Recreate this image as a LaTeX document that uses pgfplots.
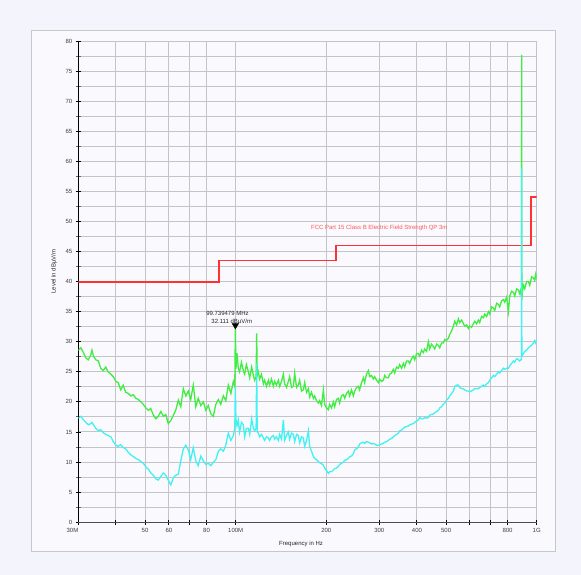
\documentclass[border=0pt]{standalone}
\usepackage{pgfplots}
\pgfplotsset{compat=1.18}
\usepackage{fontspec}
\setmainfont{Liberation Sans}
\definecolor{outerbg}{RGB}{243,244,252}
\definecolor{panelbg}{RGB}{249,249,254}
\definecolor{gridc}{RGB}{196,196,200}
\definecolor{trgreen}{RGB}{64,238,64}
\definecolor{trcyan}{RGB}{64,242,242}
\definecolor{limred}{RGB}{255,50,50}
\definecolor{limtext}{RGB}{255,90,90}
\begin{document}
\begin{tikzpicture}
\fill[outerbg] (0pt,0pt) rectangle (581pt,-575pt);
\filldraw[fill=panelbg, draw=black!22, line width=0.8pt] (31.5pt,-30.5pt) rectangle (555pt,-551pt);
\begin{axis}[
  at={(78.3pt,-522.2pt)}, anchor=south west,
  scale only axis, width=458.4pt, height=481.2pt,
  xmode=log, xmin=30, xmax=1000, ymin=0, ymax=80,
  axis x line*=bottom, axis y line*=left,
  x axis line style={-, draw=black!70, line width=1.4pt},
  y axis line style={-, draw=black, line width=1.4pt},
  xtick={30,40,50,60,70,80,100,200,300,400,500,600,700,800,1000},
  xticklabels={\llap{30M},,50,60,,80,100M,200,300,400,500,,,800,1G},
  minor x tick num=0,
  ytick={0,5,...,80},
  minor ytick={2.5,7.5,...,77.5},
  tick align=center,
  major tick length=5pt, minor tick length=5pt,
  every tick/.style={black, line width=0.9pt},
  minor tick style={black!60, line width=0.9pt},
  grid=both,
  major grid style={gridc, line width=1pt},
  minor grid style={gridc, line width=1pt},
  /pgf/number format/assume math mode=true,
  ticklabel style={font=\fontsize{6}{7}\selectfont, text=black!75},
  xlabel={Frequency in Hz},
  ylabel={Level in dBµV/m},
  label style={font=\fontsize{6}{7}\selectfont, text=black!85},
  xlabel style={at={(axis description cs:0.486,-0.0453)}, anchor=center},
  ylabel style={at={(axis description cs:-0.053,0.521)}, anchor=center, rotate=0},
  clip=true,
]
\addplot[draw=limred, line width=1.8pt, line join=miter] coordinates {(30,40) (88,40) (88,43.5) (216,43.5) (216,46) (960,46) (960,54) (1000,54)};
\addplot[trgreen, line width=1.3pt] coordinates {
(30,28.6)(30.6,29.0)(31.2,28.2)(31.8,27.3)(32.4,27.0)(33.0,27.8)(33.3,28.6)(33.7,27.6)(34.3,27.0)(35.0,26.8)(35.6,25.6)(36.3,25.2)(37.0,25.8)(37.7,25.0)(38.5,24.6)(39.2,24.2)(40.0,23.4)(40.7,23.2)(41.5,22.0)(42.3,22.8)(43.1,21.6)(44.0,21.4)(44.8,21.0)(45.7,21.2)(46.6,20.6)(47.5,20.4)(48.4,20.0)(49.3,19.6)(50.3,19.0)(51.3,18.6)(52.2,18.9)(53.3,17.8)(54.3,17.2)(55.3,17.6)(56.4,18.4)(57.5,17.6)(58.6,17.9)(59.7,16.4)(60.9,16.9)(62.1,17.8)(63.2,18.6)(64.5,20.3)(65.7,19.2)(67.0,22.2)(68.3,21.0)(69.6,21.8)(70.9,20.4)(72.3,22.8)(73.7,19.2)(75.1,20.6)(76.6,19.4)(78.1,20.0)(79.6,18.6)(81.1,19.4)(82.7,18.0)(84.3,17.6)(85.9,19.6)(87.6,20.4)(89.2,19.6)(91.0,21.0)(92.7,20.2)(94.5,22.8)(96.4,21.4)(98.2,23.4)(99.3,22.6)(99.74,32.111)(100.2,25.5)(101.0,28.1)(102.0,25.6)(103.0,25.0)(104.5,26.6)(106.0,25.2)(107.1,24.6)(108.5,26.2)(110.2,25.0)(111.3,24.0)(113.0,25.8)(114.5,24.4)(115.6,23.6)(116.9,24.2)(117.4,31.4)(117.9,24.4)(118.9,25.0)(120.1,23.8)(121.8,24.6)(123.6,23.0)(124.8,23.6)(126.6,22.6)(128.4,23.6)(129.6,22.8)(131.5,23.8)(133.4,22.6)(134.7,23.4)(136.6,22.8)(138.6,23.6)(140.0,22.6)(142.0,23.4)(144.0,24.6)(145.4,23.0)(147.5,22.4)(149.6,23.4)(151.1,24.2)(153.3,22.4)(155.5,22.6)(157.0,24.8)(159.3,22.4)(161.5,22.8)(163.1,23.6)(165.5,21.8)(167.8,22.0)(169.5,23.2)(172.0,21.6)(174.4,22.2)(176.1,20.8)(178.6,21.6)(181.2,20.6)(183.0,21.0)(185.6,20.2)(188.2,19.8)(190.1,20.2)(192.8,19.4)(195.6,22.0)(197.5,19.6)(200.3,19.0)(203.2,18.7)(205.2,19.6)(208.1,19.0)(211.1,20.0)(213.2,19.2)(216.2,20.4)(219.3,20.6)(221.5,19.8)(224.7,21.0)(227.9,21.2)(230.2,20.6)(233.5,21.4)(236.8,21.8)(239.1,21.0)(242.5,22.0)(246.0,21.0)(248.5,21.8)(252.0,22.4)(255.6,22.6)(258.1,22.0)(261.8,23.2)(265.6,24.0)(268.2,23.2)(272.0,24.6)(275.9,25.2)(278.7,24.2)(282.7,24.4)(286.7,23.8)(289.6,24.2)(293.8,23.6)(297.9,23.2)(300.9,23.8)(305.2,23.4)(309.5,23.6)(312.6,24.4)(317.0,24.0)(321.6,24.0)(324.8,24.6)(329.4,24.8)(334.1,25.4)(337.4,24.8)(342.3,25.8)(347.1,25.6)(350.6,26.2)(355.6,25.6)(360.7,26.4)(364.3,25.8)(369.5,26.8)(374.8,26.8)(378.5,26.4)(383.9,27.2)(389.4,27.6)(393.3,27.0)(398.9,28.0)(404.6,28.0)(408.6,27.6)(414.4,28.6)(420.3,28.2)(424.5,28.8)(430.6,28.4)(436.7,30.0)(441.1,28.8)(447.3,29.6)(453.8,29.2)(458.3,28.8)(464.9,29.6)(471.5,29.4)(476.2,29.0)(483.0,29.8)(489.8,29.8)(494.7,30.4)(501.8,30.2)(508.9,30.6)(514.0,31.2)(521.4,31.8)(528.8,32.6)(534.1,33.4)(541.7,32.8)(549.4,33.8)(554.9,33.2)(562.9,33.6)(570.8,33.0)(576.6,32.6)(585.0,32.8)(593.1,32.2)(599.0,32.6)(607.6,32.4)(616.2,33.0)(622.4,33.4)(631.3,33.0)(640.3,33.6)(646.7,33.2)(656.0,34.2)(665.2,34.0)(671.9,34.6)(681.6,34.2)(691.2,35.0)(698.1,34.6)(708.2,35.8)(718.1,35.6)(725.3,35.2)(735.8,36.4)(746.2,36.2)(753.6,35.8)(764.5,36.8)(775.3,37.0)(783.0,36.6)(794.3,37.4)(805.5,35.0)(813.5,37.6)(825.3,38.4)(836.9,38.2)(845.3,37.6)(857.5,38.8)(869.5,38.6)(878.2,38.0)(885,38.6)(890.5,37.4)(891.6,77.7)(892.7,37.0)(897,38.4)(903.4,39.4)(912.5,38.8)(925.6,40.0)(938.7,40.0)(948.1,39.4)(961.8,40.8)(975.3,40.6)(985.0,40.2)(992,41.2)(1000,40.4)
};
\addplot[trcyan, line width=1.3pt] coordinates {
(30,17.3)(30.6,17.6)(31.2,17.0)(31.8,16.6)(32.4,16.2)(33.0,16.4)(33.3,16.6)(33.7,16.2)(34.3,15.6)(35.0,15.2)(35.6,15.4)(36.3,14.9)(37.0,14.6)(37.7,14.4)(38.5,14.2)(39.2,13.4)(40.0,12.8)(40.7,12.6)(41.5,12.9)(42.3,12.4)(43.1,12.2)(44.0,11.6)(44.8,11.2)(45.7,10.9)(46.6,10.6)(47.5,10.4)(48.4,10.1)(49.3,9.8)(50.3,9.2)(51.3,8.8)(52.2,8.2)(53.3,7.8)(54.3,7.2)(55.3,7.0)(56.4,7.6)(57.5,8.2)(58.6,7.8)(59.7,7.0)(60.9,6.2)(62.1,7.4)(63.2,7.8)(64.5,8.0)(65.7,10.2)(67.0,12.2)(68.3,12.8)(69.6,12.0)(70.9,10.4)(72.3,12.4)(73.7,10.2)(75.1,9.4)(76.6,11.0)(78.1,10.2)(79.6,9.6)(81.1,9.8)(82.7,9.4)(84.3,10.0)(85.9,10.4)(87.6,11.8)(89.2,12.2)(91.0,11.8)(92.7,12.8)(94.5,14.8)(96.4,13.6)(98.2,14.4)(99.3,15.6)(99.74,22.5)(100.2,17.0)(101.0,16.0)(102.0,17.0)(103.0,15.0)(104.5,16.6)(106.0,16.2)(107.1,14.2)(108.5,15.6)(110.2,15.6)(111.3,14.6)(113.0,17.2)(114.5,15.6)(115.6,15.2)(116.9,15.6)(117.4,26.4)(117.9,15.0)(118.9,14.8)(120.1,14.2)(121.8,14.6)(123.6,14.0)(124.8,13.6)(126.6,14.2)(128.4,14.0)(129.6,13.6)(131.5,14.2)(133.4,14.4)(134.7,13.8)(136.6,14.2)(138.6,13.6)(140.0,14.6)(142.0,13.8)(144.0,17.0)(145.4,13.6)(147.5,14.4)(149.6,15.0)(151.1,13.8)(153.3,14.8)(155.5,14.6)(157.0,13.4)(159.3,14.6)(161.5,14.4)(163.1,13.2)(165.5,14.2)(167.8,14.0)(169.5,12.6)(172.0,13.6)(174.4,15.2)(176.1,12.6)(178.6,11.8)(181.2,10.9)(183.0,10.6)(185.6,10.4)(188.2,10.1)(190.1,9.9)(192.8,9.7)(195.6,9.5)(197.5,9.0)(200.3,8.6)(203.2,8.1)(205.2,8.4)(208.1,8.4)(211.1,8.7)(213.2,8.9)(216.2,9.0)(219.3,9.3)(221.5,9.6)(224.7,9.8)(227.9,10.0)(230.2,10.3)(233.5,10.4)(236.8,10.6)(239.1,10.9)(242.5,11.0)(246.0,11.4)(248.5,12.0)(252.0,12.2)(255.6,12.5)(258.1,13.0)(261.8,13.2)(265.6,13.3)(268.2,13.1)(272.0,13.4)(275.9,13.3)(278.7,13.2)(282.7,13.0)(286.7,13.1)(289.6,13.0)(293.8,12.8)(297.9,12.8)(300.9,12.9)(305.2,13.0)(309.5,13.1)(312.6,13.3)(317.0,13.4)(321.6,13.6)(324.8,13.8)(329.4,13.9)(334.1,14.2)(337.4,14.4)(342.3,14.6)(347.1,14.8)(350.6,15.2)(355.6,15.3)(360.7,15.6)(364.3,15.8)(369.5,15.9)(374.8,16.0)(378.5,16.2)(383.9,16.3)(389.4,16.4)(393.3,16.6)(398.9,16.8)(404.6,17.0)(408.6,17.4)(414.4,17.2)(420.3,17.2)(424.5,17.4)(430.6,17.3)(436.7,17.4)(441.1,17.8)(447.3,17.9)(453.8,18.0)(458.3,18.2)(464.9,18.4)(471.5,18.6)(476.2,19.0)(483.0,19.2)(489.8,19.6)(494.7,19.8)(501.8,20.3)(508.9,20.6)(514.0,21.0)(521.4,21.4)(528.8,21.8)(534.1,22.6)(541.7,22.8)(549.4,22.8)(554.9,22.4)(562.9,22.2)(570.8,22.2)(576.6,22.0)(585.0,21.8)(593.1,21.8)(599.0,21.7)(607.6,21.8)(616.2,22.0)(622.4,22.2)(631.3,22.2)(640.3,22.2)(646.7,22.4)(656.0,22.6)(665.2,22.8)(671.9,22.6)(681.6,23.0)(691.2,23.2)(698.1,23.6)(708.2,24.0)(718.1,24.4)(725.3,24.2)(735.8,24.6)(746.2,25.0)(753.6,24.8)(764.5,25.2)(775.3,25.6)(783.0,25.4)(794.3,25.6)(805.5,25.6)(813.5,26.0)(825.3,26.4)(836.9,26.8)(845.3,26.6)(857.5,27.2)(869.5,27.0)(878.2,26.8)(885,27.0)(890.5,27.0)(891.6,58.8)(892.7,27.6)(897,27.8)(903.4,28.0)(912.5,28.4)(925.6,28.6)(938.7,29.0)(948.1,29.2)(961.8,29.4)(975.3,29.8)(985.0,30.2)(992,29.8)(1000,30.2)
};
\addplot[only marks, mark=triangle*, mark size=3.6pt, mark options={yshift=3.6pt, rotate=180, fill=black, draw=black}] coordinates {(99.739479,32.111)};
\node[font=\fontsize{6}{7}\selectfont, text=black!85] at (axis cs:93.9,34.72) {99.739479 MHz};
\node[font=\fontsize{6}{7}\selectfont, text=black!85] at (axis cs:97.0,33.33) {32.111 dBµV/m};
\node[font=\fontsize{6}{7}\selectfont, text=limtext] at (axis cs:300,48.85) {FCC Part 15 Class B Electric Field Strength QP 3m};
\end{axis}
\end{tikzpicture}
\end{document}
